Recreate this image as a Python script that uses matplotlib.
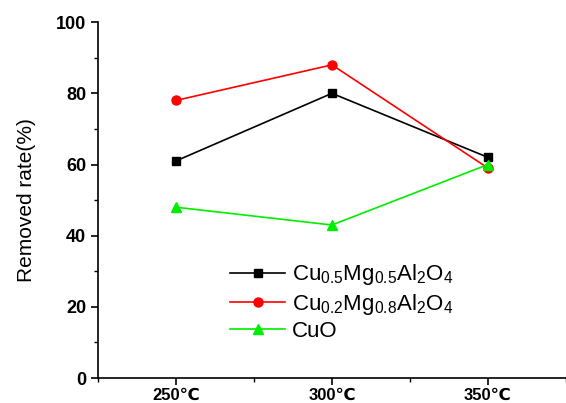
import matplotlib
matplotlib.use("Agg")
import matplotlib.pyplot as plt
from matplotlib.ticker import MultipleLocator

plt.rcParams['font.family'] = ['Liberation Sans', 'DejaVu Sans']
plt.rcParams['mathtext.fontset'] = 'custom'
plt.rcParams['mathtext.rm'] = 'Liberation Sans'
plt.rcParams['mathtext.it'] = 'Liberation Sans'
plt.rcParams['mathtext.bf'] = 'Liberation Sans:bold'

temps = [250, 300, 350]
tick_labels = ['250℃', '300℃', '350℃']
s1 = [61, 80, 62]
s2 = [78, 88, 59]
s3 = [48, 43, 60]
names = [r'Cu$_{0.5}$Mg$_{0.5}$Al$_2$O$_4$', r'Cu$_{0.2}$Mg$_{0.8}$Al$_2$O$_4$', 'CuO']

fig = plt.figure(figsize=(5.66, 4.03), dpi=100)
ax = fig.add_axes([0.173, 0.062, 0.827, 0.883])

ax.plot(temps, s1, color='black', marker='s', ms=6, lw=1.2, label=names[0])
ax.plot(temps, s2, color='red', marker='o', ms=6.5, lw=1.2, label=names[1])
ax.plot(temps, s3, color='#00ee00', marker='^', ms=7, lw=1.2, label=names[2])

ax.set_xlim(225, 375)
ax.set_ylim(0, 100)
ax.set_xticks(temps)
ax.set_xticklabels(tick_labels, fontsize=12, fontweight='bold')
ax.xaxis.set_minor_locator(MultipleLocator(25))
ax.yaxis.set_major_locator(MultipleLocator(20))
ax.yaxis.set_minor_locator(MultipleLocator(10))
for lab in ax.get_yticklabels():
    lab.set_fontweight('bold')
    lab.set_fontsize(13)
ax.tick_params(which='major', direction='out', length=5, width=1.2)
ax.tick_params(axis='x', which='major', pad=2)
ax.tick_params(which='minor', direction='out', length=3, width=1)
ax.spines['top'].set_visible(False)
ax.spines['right'].set_visible(False)
ax.spines['left'].set_linewidth(1.2)
ax.spines['bottom'].set_linewidth(1.2)
ax.set_ylabel('Removed rate(%)', fontsize=15, labelpad=14)

ax.legend(loc='upper left', bbox_to_anchor=(0.282, 0.325), frameon=False, fontsize=16,
          handlelength=2.5, labelspacing=0.2, handletextpad=0.3, borderpad=0,
          borderaxespad=0)

fig.savefig('out.png', dpi=100)
